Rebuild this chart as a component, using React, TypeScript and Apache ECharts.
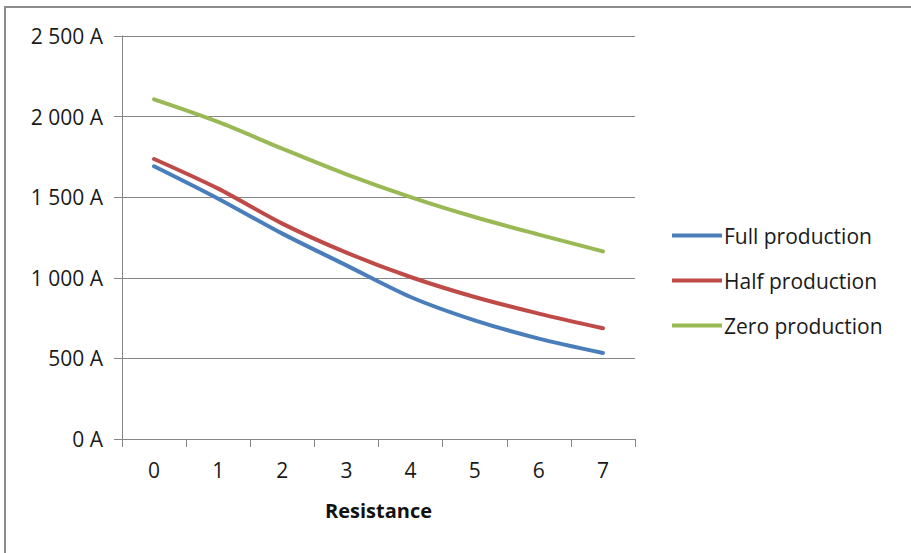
import React, { useEffect, useRef } from "react";
import * as echarts from "echarts";

// Resistance steps on the category axis
const resistance = ["0", "1", "2", "3", "4", "5", "6", "7"];

// Current (A) per production level
const fullProduction = [1692, 1491, 1274, 1077, 881, 736, 623, 534];
const halfProduction = [1737, 1553, 1336, 1156, 1005, 881, 778, 687];
const zeroProduction = [2107, 1967, 1801, 1642, 1501, 1377, 1268, 1164];

const seriesNames = ["Full production", "Half production", "Zero production"];
const seriesColors = ["#4a7ebb", "#be4b48", "#98b954"];

const FONT = "'Open Sans', 'Noto Sans', sans-serif";

function formatAmp(v: number): string {
  return String(v).replace(/\B(?=(\d{3})+(?!\d))/g, " ") + " A";
}

export default function App() {
  const ref = useRef<HTMLDivElement>(null);

  useEffect(() => {
    if (!ref.current) return;
    const chart = echarts.init(ref.current, null, { renderer: "svg" });
    const values = [fullProduction, halfProduction, zeroProduction];

    chart.setOption({
      animation: false,
      backgroundColor: "#ffffff",
      textStyle: { fontFamily: FONT },
      grid: { left: 122, right: 276, top: 36, bottom: 114 },
      graphic: [
        {
          type: "polyline",
          shape: { points: [[5, 560], [5, 7], [920, 7]] },
          style: { stroke: "#8c8c8c", lineWidth: 2, fill: "none" },
        },
      ],
      legend: {
        orient: "vertical",
        left: 672,
        top: 225,
        padding: 0,
        itemWidth: 50,
        itemHeight: 4,
        itemGap: 24,
        icon: "rect",
        textStyle: { fontFamily: FONT, fontSize: 21, color: "#1a1a1a", padding: [0, 0, 0, -3] },
        data: seriesNames,
      },
      xAxis: {
        type: "category",
        data: resistance,
        boundaryGap: true,
        name: "Resistance",
        nameLocation: "middle",
        nameGap: 61,
        nameTextStyle: { fontFamily: FONT, fontSize: 20, fontWeight: "bold", color: "#111" },
        axisLine: { show: true, lineStyle: { color: "#868686", width: 1 } },
        axisTick: { show: true, length: 8, alignWithLabel: false, lineStyle: { color: "#868686" } },
        axisLabel: { margin: 20, fontFamily: FONT, fontSize: 21, color: "#1a1a1a" },
        splitLine: { show: false },
      },
      yAxis: {
        type: "value",
        min: 0,
        max: 2500,
        interval: 500,
        axisLine: { show: true, lineStyle: { color: "#868686", width: 1 } },
        axisTick: { show: true, length: 8, lineStyle: { color: "#868686" } },
        axisLabel: { margin: 19, fontFamily: FONT, fontSize: 21, color: "#1a1a1a", formatter: formatAmp },
        splitLine: { show: true, lineStyle: { color: "#868686", width: 1 } },
      },
      series: seriesNames.map((name, i) => ({
        name,
        type: "line",
        data: values[i],
        smooth: 0.3,
        symbol: "none",
        lineStyle: { width: 4, color: seriesColors[i], cap: "round" },
        itemStyle: { color: seriesColors[i] },
      })),
    });

    return () => chart.dispose();
  }, []);

  return (
    <div
      ref={ref}
      style={{ position: "absolute", left: 0, top: 0, width: 911, height: 553 }}
    />
  );
}
